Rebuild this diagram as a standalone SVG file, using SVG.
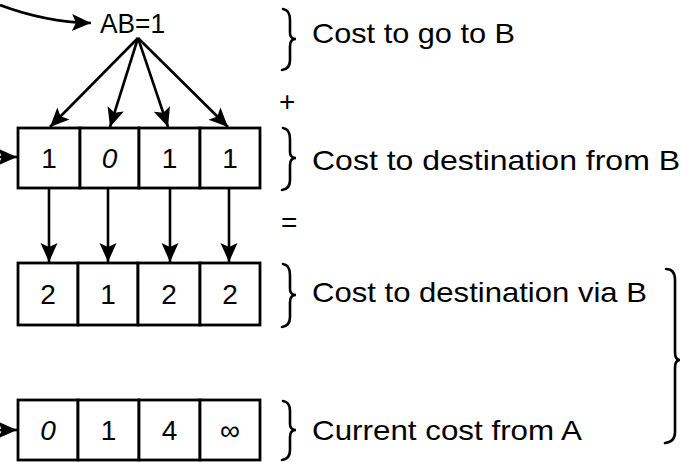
<svg xmlns="http://www.w3.org/2000/svg" width="681" height="462" viewBox="0 0 681 462">
<style>
.cell{fill:#fff;stroke:#000;stroke-width:2.8}
.v{font-family:"Liberation Sans",Arial,sans-serif;font-size:28px;fill:#000;text-anchor:middle}
.lbl{font-family:"Liberation Sans",Arial,sans-serif;font-size:28px;fill:#000}
.ln{fill:none;stroke:#000;stroke-width:2.6}
.br{fill:none;stroke:#000;stroke-width:2.6;stroke-linecap:round}
</style>
<defs>
<marker id="ah" markerWidth="22" markerHeight="20" viewBox="-21 -10 22 20" refX="0" refY="0" orient="auto" markerUnits="userSpaceOnUse">
<path d="M0,0 L-19,-8.5 L-15,0 L-19,8.5 Z" fill="#000"/>
</marker>
</defs>
<g id="connectors">
<path class="ln" d="M0,5 Q45,22 91,23" marker-end="url(#ah)"/>
<path class="ln" d="M138,38 L50,127" marker-end="url(#ah)"/>
<path class="ln" d="M138,38 L110,127" marker-end="url(#ah)"/>
<path class="ln" d="M138,38 L168,127" marker-end="url(#ah)"/>
<path class="ln" d="M138,38 L228,127" marker-end="url(#ah)"/>
<path class="ln" d="M0,157 L17,157" marker-end="url(#ah)"/>
<path class="ln" d="M0,430 L17,430" marker-end="url(#ah)"/>
<path class="ln" d="M49,188 L49,262" marker-end="url(#ah)"/>
<path class="ln" d="M108,188 L108,262" marker-end="url(#ah)"/>
<path class="ln" d="M170,188 L170,262" marker-end="url(#ah)"/>
<path class="ln" d="M229,188 L229,262" marker-end="url(#ah)"/>
</g>
<g id="ab">
<text class="lbl" x="100" y="33" textLength="65" lengthAdjust="spacingAndGlyphs">AB=1</text>
</g>
<g id="row-from-B">
<rect class="cell" x="18" y="128" width="62" height="60"/>
<rect class="cell" x="80" y="128" width="59" height="60"/>
<rect class="cell" x="139" y="128" width="61" height="60"/>
<rect class="cell" x="200" y="128" width="60" height="60"/>
<text class="v" x="49" y="168">1</text>
<text class="v" x="109.5" y="168" font-style="italic">0</text>
<text class="v" x="169.5" y="168">1</text>
<text class="v" x="230" y="168">1</text>
</g>
<g id="row-via-B">
<rect class="cell" x="18" y="263" width="60" height="62"/>
<rect class="cell" x="78" y="263" width="60" height="62"/>
<rect class="cell" x="138" y="263" width="62" height="62"/>
<rect class="cell" x="200" y="263" width="60" height="62"/>
<text class="v" x="48" y="304">2</text>
<text class="v" x="108" y="304">1</text>
<text class="v" x="169" y="304">2</text>
<text class="v" x="230" y="304">2</text>
</g>
<g id="row-current">
<rect class="cell" x="18" y="400" width="60" height="60"/>
<rect class="cell" x="78" y="400" width="61" height="60"/>
<rect class="cell" x="139" y="400" width="61" height="60"/>
<rect class="cell" x="200" y="400" width="60" height="60"/>
<text class="v" x="48" y="440" font-style="italic">0</text>
<text class="v" x="108.5" y="440">1</text>
<text class="v" x="169.5" y="440">4</text>
<text class="v" x="230" y="440">∞</text>
</g>
<g id="labels">
<path class="br" d="M283,9 Q290,10 290,20 L290,33 Q290,39 296,39 Q290,39 290,46 L290,60 Q290,69 282,70"/>
<text class="lbl" x="312" y="43" textLength="203" lengthAdjust="spacingAndGlyphs">Cost to go to B</text>
<text class="lbl" x="279" y="111" font-size="24px">+</text>
<path class="br" d="M283,128 Q290,129 290,139 L290,152 Q290,158 296,158 Q290,158 290,165 L290,180 Q290,189 282,190"/>
<text class="lbl" x="312" y="170" textLength="368" lengthAdjust="spacingAndGlyphs">Cost to destination from B</text>
<text class="lbl" x="281" y="232" font-size="24px">=</text>
<path class="br" d="M283,264 Q290,265 290,275 L290,289 Q290,295 296,295 Q290,295 290,302 L290,317 Q290,326 282,327"/>
<text class="lbl" x="312" y="302" textLength="335" lengthAdjust="spacingAndGlyphs">Cost to destination via B</text>
<path class="br" d="M283,401 Q290,402 290,411 L290,424 Q290,430 296,430 Q290,430 290,437 L290,450 Q290,459 282,460"/>
<text class="lbl" x="312" y="440" textLength="270" lengthAdjust="spacingAndGlyphs">Current cost from A</text>
<path class="br" d="M666,269 Q675,269 675,280 L675,352 Q675,360 680,360 Q675,360 675,368 L675,432 Q675,442 665,443"/>
</g>
</svg>
